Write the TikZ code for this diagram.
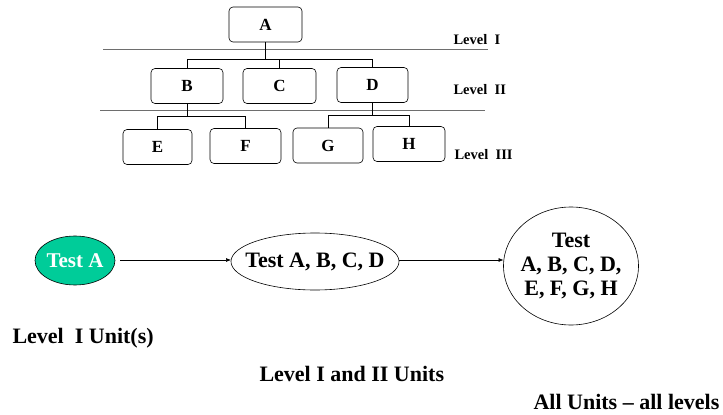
\documentclass[tikz,border=0pt]{standalone}
\usepackage{fontspec}
\setmainfont{Liberation Serif}
\usetikzlibrary{shapes.geometric,arrows.meta}
\definecolor{unitgreen}{RGB}{0,204,153}
\definecolor{levelgray}{RGB}{110,110,110}
\tikzset{
  unitbox/.style={draw, rounded corners=4pt, line width=0.6pt, minimum width=#1, minimum height=35pt, font=\bfseries\fontsize{17}{19}\selectfont},
  unitbox/.default=72pt,
  levellabel/.style={font=\bfseries\fontsize{14.5}{16}\selectfont, anchor=west},
  levelline/.style={levelgray, line width=1pt},
  tree/.style={line width=0.6pt},
  % ellipse of fixed size; its text is set as a centred label
  testnode/.style={draw, ellipse, line width=0.6pt, inner sep=0pt, outer sep=0pt},
  testtext/.style={font=\bfseries\fontsize{22}{24}\selectfont, align=center},
  flow/.style={-{Latex[length=5pt,width=4pt]}, line width=0.6pt},
  caption/.style={font=\bfseries\fontsize{22}{24}\selectfont, anchor=west},
}
\begin{document}
\begin{tikzpicture}[x=1pt, y=-1pt]
\useasboundingbox (0,0) rectangle (723,415);

% unit hierarchy
\node[unitbox=73pt] (A) at (265.5,24.5) {A};
\node[unitbox=72pt] (B) at (187,86) {B};
\node[unitbox=73pt] (C) at (279.5,86) {C};
\node[unitbox=71pt] (D) at (372.5,85) {D};
\node[unitbox=69pt] (E) at (157.5,147) {E};
\node[unitbox=71pt] (F) at (245.5,146) {F};
\node[unitbox=70pt] (G) at (328,145.5) {G};
\node[unitbox=72pt] (H) at (409,144) {H};

% level separators
\coordinate (l1a) at (103,49); \coordinate (l1b) at (488,49);
\coordinate (l2a) at (100,110); \coordinate (l2b) at (485,110);
\draw[levelline] (l1a) -- (l1b);
\draw[levelline] (l2a) -- (l2b);
\node[levellabel] (lvI) at (450,40) {Level\ \ I};
\node[levellabel] (lvII) at (450,90) {Level\ \ II};
\node[levellabel] (lvIII) at (451,155) {Level\ \ III};

% tree connectors
\draw[tree] (A.south) -- (A.south |- 0,59) -| (B.north);
\draw[tree] (A.south |- 0,59) -| (D.north);
\draw[tree] (C.north) -- (C.north |- 0,59);
\draw[tree] (B.south) -- (B.south |- 0,116) -| (E.north);
\draw[tree] (B.south |- 0,116) -| (F.north);
\draw[tree] (D.south) -- (D.south |- 0,115) -| (G.north);
\draw[tree] (D.south |- 0,115) -| (H.north);

% test progression
\node[testnode, fill=unitgreen, minimum width=80pt, minimum height=49pt,
      label={[testtext, text=white, font=\bfseries\fontsize{21}{23}\selectfont]center:Test A}] (t1) at (75,260.5) {};
\node[testnode, minimum width=168pt, minimum height=57pt,
      label={[testtext]center:Test A, B, C, D}] (t2) at (315,261.5) {};
\node[testnode, minimum width=135pt, minimum height=118pt,
      label={[testtext]center:Test\\A, B, C, D,\\E, F, G, H}] (t3) at (571,266) {};
\draw[flow] (t1.east |- 0,260) ++(5,0) -- (t2.west |- 0,260);
\draw[flow] (t2.east |- 0,260) -- (t3.west |- 0,260);

\node[caption] (c1) at (9,338) {Level\ \ I Unit(s)};
\node[caption] (c2) at (256,374) {Level I and II Units};
\node[caption] (c3) at (530,402) {All Units – all levels};
\end{tikzpicture}
\end{document}
